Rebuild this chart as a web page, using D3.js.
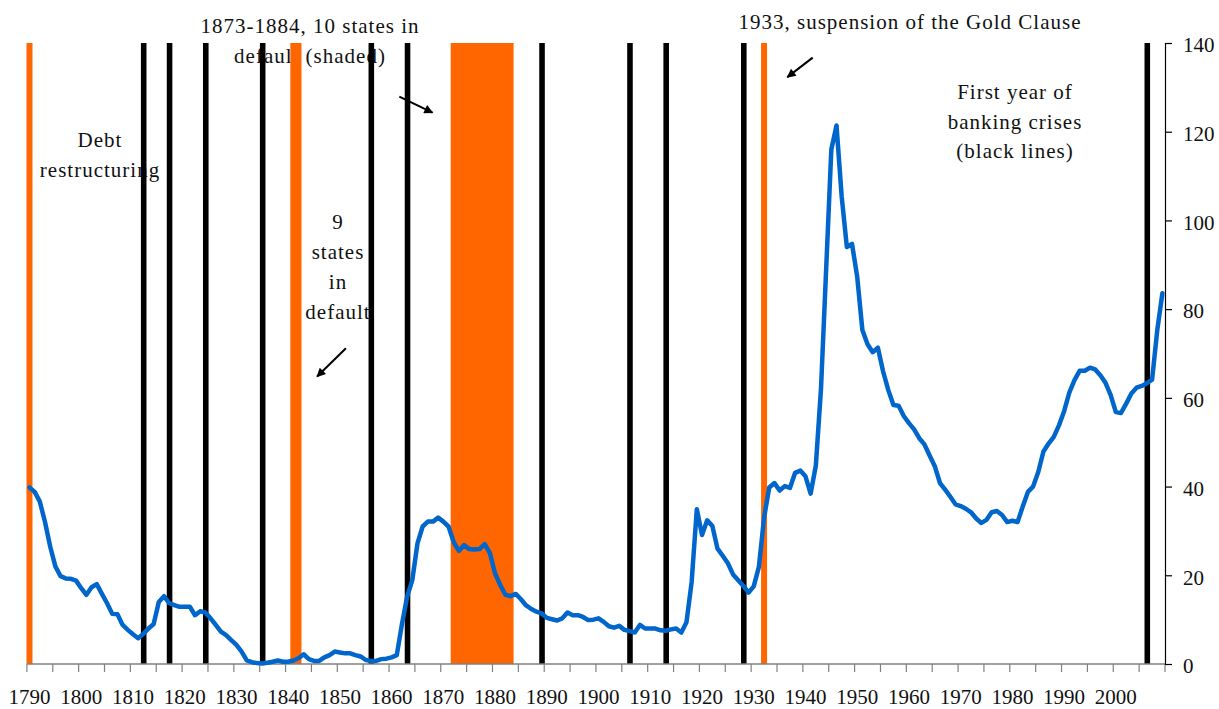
<!DOCTYPE html>
<html>
<head>
<meta charset="utf-8">
<script src="https://cdn.jsdelivr.net/npm/d3@7"></script>
<style>
  html, body { margin: 0; padding: 0; background: #fff; }
  svg { display: block; }
  text { font-family: "Liberation Serif", "Times New Roman", serif; fill: #111; }
</style>
</head>
<body>
<svg id="chart" width="1219" height="709"></svg>
<script>
// ---------- data ----------
const years = d3.range(1790, 2010);
const debtToGDP = [
  39.8, 38.8, 36.6, 32.0, 26.5, 22.0, 19.8, 19.3, 19.2, 18.8,   // 1790-1799
  17.1, 15.6, 17.3, 18.0, 15.8, 13.7, 11.3, 11.2, 8.8, 7.7,      // 1800-1809
  6.7, 5.8, 6.8, 8.0, 9.0, 14.0, 15.3, 13.7, 13.3, 12.9,         // 1810-1819
  12.9, 12.9, 11.0, 11.9, 11.6, 10.3, 8.8, 7.3, 6.5, 5.4,        // 1820-1829
  4.3, 2.8, 0.8, 0.4, 0.2, 0.1, 0.3, 0.5, 0.8, 0.5,              // 1830-1839
  0.5, 0.8, 1.3, 2.2, 1.1, 0.7, 0.7, 1.5, 2.0, 2.8,              // 1840-1849
  2.6, 2.4, 2.4, 2.0, 1.7, 0.9, 0.7, 0.7, 1.1, 1.2,              // 1850-1859
  1.5, 2.0, 9.0, 15.2, 18.9, 27.2, 31.0, 32.1, 32.1, 33.0,       // 1860-1869
  32.1, 31.0, 27.5, 25.5, 26.8, 25.9, 25.8, 25.9, 27.0, 25.0,    // 1870-1879
  20.4, 17.8, 15.6, 15.3, 15.8, 14.6, 13.2, 12.4, 11.8, 11.4,    // 1880-1889
  10.4, 10.1, 9.8, 10.3, 11.6, 11.0, 11.0, 10.6, 9.9, 10.0,      // 1890-1899
  10.3, 9.5, 8.5, 8.2, 8.6, 7.7, 7.4, 7.1, 8.8, 8.0,             // 1900-1909
  8.0, 8.0, 7.6, 7.5, 7.8, 8.0, 7.1, 9.4, 18.5, 34.9,            // 1910-1919
  29.1, 32.4, 31.1, 26.0, 24.4, 22.7, 20.2, 18.9, 17.6, 16.1,    // 1920-1929
  17.5, 21.9, 33.0, 39.8, 40.8, 39.1, 40.1, 39.7, 43.1, 43.6,    // 1930-1939
  42.3, 38.4, 44.7, 62.0, 89.0, 116.0, 121.4, 105.4, 94.0, 94.7, // 1940-1949
  87.3, 75.3, 72.1, 70.3, 71.3, 66.0, 61.8, 58.4, 58.2, 55.9,    // 1950-1959
  54.3, 52.9, 50.9, 49.5, 47.0, 44.6, 40.8, 39.3, 37.7, 36.0,    // 1960-1969
  35.6, 35.0, 34.2, 32.8, 31.8, 32.5, 34.2, 34.5, 33.6, 32.0,    // 1970-1979
  32.3, 32.0, 35.5, 38.8, 40.0, 43.3, 47.9, 49.7, 51.2, 53.8,    // 1980-1989
  57.0, 61.2, 64.0, 66.1, 66.1, 66.8, 66.4, 65.1, 63.4, 60.6,    // 1990-1999
  56.8, 56.6, 58.7, 61.0, 62.3, 62.7, 63.3, 64.1, 75.2, 83.6     // 2000-2009
];
const bankingCrisisYears = [1812, 1817, 1824, 1835, 1856, 1863, 1889, 1906, 1913, 1928, 2006];
const defaultYears = [1790, 1841, 1842, 1872, 1873, 1874, 1875, 1876, 1877, 1878, 1879, 1880, 1881, 1882, 1883, 1932];
const xTickYears = d3.range(1790, 2011, 5);
const xLabelYears = d3.range(1790, 2001, 10);
const yTicks = [0, 20, 40, 60, 80, 100, 120, 140];

// ---------- layout ----------
const svg = d3.select("#chart");
svg.append("rect").attr("width", 1219).attr("height", 709).attr("fill", "#fff");

const x = d3.scaleLinear().domain([1790, 2010]).range([26.9, 1165]);
const y = d3.scaleLinear().domain([0, 140]).range([664, 43]);
const xc = yr => x(yr + 0.5);

// ---------- annotations text (under the bars) ----------
const notes = svg.append("g")
  .attr("font-size", 21)
  .attr("letter-spacing", "1px")
  .attr("text-anchor", "middle");
const noteBlocks = [
  { cx: 100, lines: ["Debt", "restructuring"], y0: 147, dy: 30 },
  { cx: 310, lines: ["1873-1884, 10 states in", "default (shaded)"], y0: 33, dy: 30 },
  { cx: 338, lines: ["9", "states", "in", "default"], y0: 229, dy: 30 },
  { cx: 910, lines: ["1933, suspension of the Gold Clause"], y0: 29, dy: 30 },
  { cx: 1015, lines: ["First year of", "banking crises", "(black lines)"], y0: 99, dy: 29.5 }
];
noteBlocks.forEach(b => {
  b.lines.forEach((t, i) => {
    notes.append("text").attr("x", b.cx).attr("y", b.y0 + i * b.dy).text(t);
  });
});

// ---------- default bars (orange) ----------
svg.append("g").selectAll("rect")
  .data(defaultYears)
  .join("rect")
  .attr("x", d => x(d) - 0.4)
  .attr("width", d => x(d + 1) - x(d) + 0.8)
  .attr("y", y(140))
  .attr("height", y(0) - y(140))
  .attr("fill", "#FF6600");

// ---------- banking crisis bars (black) ----------
svg.append("g").selectAll("rect")
  .data(bankingCrisisYears)
  .join("rect")
  .attr("x", d => x(d) + 0.2)
  .attr("width", d => x(d + 1) - x(d) + 0.4)
  .attr("y", y(140))
  .attr("height", y(0) - y(140))
  .attr("fill", "#000");

// ---------- x axis ----------
const xAxis = svg.append("g");
xAxis.append("line")
  .attr("x1", x(1790)).attr("x2", x(2010))
  .attr("y1", y(0)).attr("y2", y(0))
  .attr("stroke", "#808080").attr("stroke-width", 1.5);
xAxis.selectAll("line.tick")
  .data(xTickYears)
  .join("line")
  .attr("class", "tick")
  .attr("x1", d => x(d)).attr("x2", d => x(d))
  .attr("y1", y(0)).attr("y2", y(0) + 8)
  .attr("stroke", "#808080").attr("stroke-width", 1.2);
xAxis.selectAll("text")
  .data(xLabelYears)
  .join("text")
  .attr("x", d => xc(d))
  .attr("y", 704)
  .attr("text-anchor", "middle")
  .attr("font-size", 21)
  .text(d => d);

// ---------- y axis (right) ----------
const yAxis = svg.append("g")
  .attr("transform", `translate(${x(2010)},0)`)
  .call(d3.axisRight(y).tickValues(yTicks).tickSize(7).tickPadding(11).tickFormat(d3.format("d")));
yAxis.select(".domain").attr("stroke", "#000").attr("stroke-width", 1.2);
yAxis.selectAll(".tick line").attr("stroke", "#000").attr("stroke-width", 1.2);
yAxis.selectAll(".tick text")
  .attr("font-family", "Liberation Serif, Times New Roman, serif")
  .attr("font-size", 21)
  .attr("fill", "#111")
  .attr("dy", "0.42em");

// ---------- debt line ----------
const series = years.map((yr, i) => ({ yr, v: debtToGDP[i] }));
svg.append("path")
  .datum(series)
  .attr("fill", "none")
  .attr("stroke", "#0066CC")
  .attr("stroke-width", 4.5)
  .attr("stroke-linejoin", "round")
  .attr("stroke-linecap", "round")
  .attr("d", d3.line().x(d => xc(d.yr)).y(d => y(d.v)));

// ---------- arrows ----------
svg.append("defs").append("marker")
  .attr("id", "arrowhead")
  .attr("viewBox", "0 0 10 10")
  .attr("refX", 9).attr("refY", 5)
  .attr("markerUnits", "userSpaceOnUse")
  .attr("markerWidth", 11).attr("markerHeight", 9)
  .attr("orient", "auto")
  .append("path")
  .attr("d", "M0,0 L10,5 L0,10 z")
  .attr("fill", "#000");

const arrows = [
  { from: [1861.99, 127.9], to: [1868.4, 124.3] },
  { from: [1851.67, 71.2], to: [1846.1, 64.8] },
  { from: [1941.9, 136.7], to: [1937.0, 132.3] }
];
svg.append("g").selectAll("line")
  .data(arrows)
  .join("line")
  .attr("x1", d => x(d.from[0])).attr("y1", d => y(d.from[1]))
  .attr("x2", d => x(d.to[0])).attr("y2", d => y(d.to[1]))
  .attr("stroke", "#000").attr("stroke-width", 2)
  .attr("marker-end", "url(#arrowhead)");
</script>
</body>
</html>
